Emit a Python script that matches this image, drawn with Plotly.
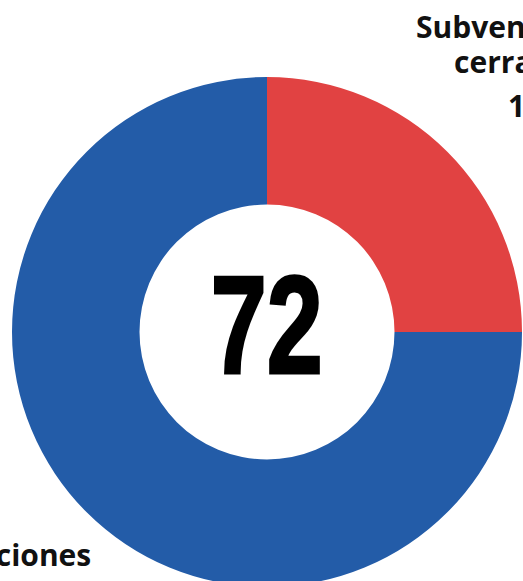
import plotly.graph_objects as go

W, H = 523, 587  # window is 581 tall; the reference's ring is cut at the bottom edge

categories = ["Subvenciones<br>cerradas", "Subvenciones<br>abiertas"]
values = [18, 54]
colors = ["#E14242", "#235CA8"]
total_label = str(sum(values))

top_lines = ["Subvenciones", "cerradas", str(values[0])]
bottom_line = "Subvenciones"


def py(px):
    return 1 - px / H


def px_x(px):
    return px / W


fig = go.Figure()
fig.add_trace(go.Pie(
    labels=categories,
    values=values,
    hole=0.5,
    sort=False,
    direction="clockwise",
    rotation=0,
    marker=dict(colors=colors, line=dict(width=0)),
    textinfo="none",
    hoverinfo="label+value",
    showlegend=False,
    domain=dict(x=[px_x(12), px_x(522)], y=[0, py(77)]),
))

label_font = dict(family="Open Sans, Noto Sans, sans-serif", size=30, color="#111111")

# top-right label lines (clipped by the page edge, as in the reference)
for txt, x0, base in zip(top_lines, [414, 452, 506], [40, 75, 119]):
    fig.add_annotation(
        x=px_x(x0), y=py(base + 9), xref="paper", yref="paper",
        xanchor="left", yanchor="bottom",
        text=f"<b>{txt}</b>", showarrow=False, font=label_font,
    )

# bottom-left label
fig.add_annotation(
    x=px_x(93), y=py(568 + 9), xref="paper", yref="paper",
    xanchor="right", yanchor="bottom",
    text=f"<b>{bottom_line}</b>", showarrow=False, font=label_font,
)

# center total
fig.add_annotation(
    x=px_x(267), y=py(324), xref="paper", yref="paper",
    xanchor="center", yanchor="middle",
    text=f"<b>{total_label}</b>",
    showarrow=False,
    font=dict(family="Liberation Sans, Arial, sans-serif", size=140, color="#000000"),
)

fig.update_layout(
    width=W, height=H,
    margin=dict(l=0, r=0, t=0, b=0),
    paper_bgcolor="white", plot_bgcolor="white",
)

post = """
document.documentElement.style.margin='0';
document.documentElement.style.overflow='hidden';
document.body.style.margin='0';
document.body.style.overflow='hidden';
function condense(){
  document.querySelectorAll('.annotation-text').forEach(function(t){
    if (t.textContent.trim()==='%s'){
      t.style.transformBox='fill-box';
      t.style.transformOrigin='center';
      t.style.transform='scaleX(0.72)';
      t.style.stroke='#000';
      t.style.strokeWidth='3px';
    }
  });
}
condense();
setTimeout(condense, 50);
""" % total_label

fig.write_html("out.html", post_script=post, config={"displayModeBar": False})
